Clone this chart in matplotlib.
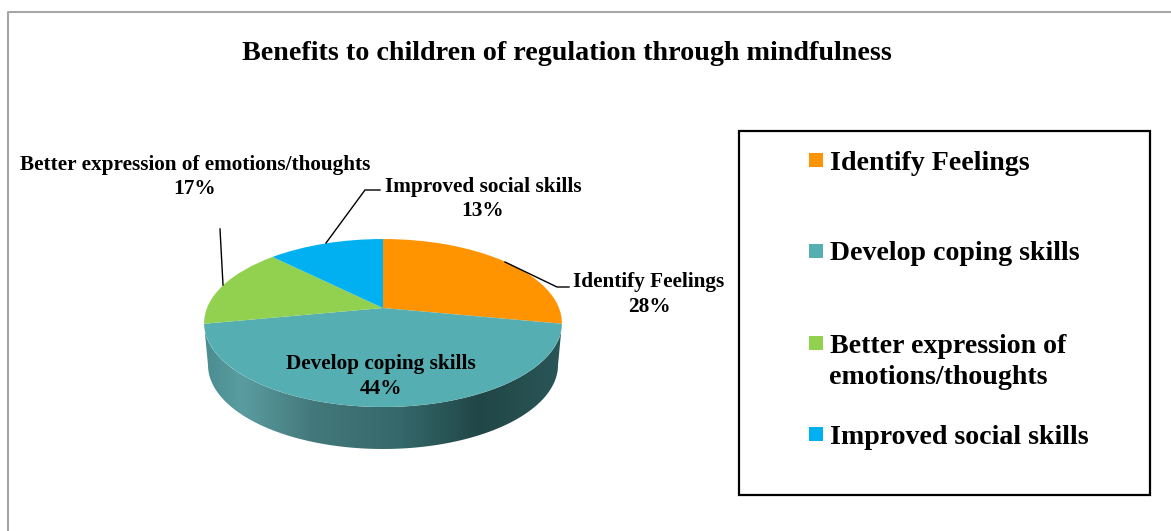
import numpy as np
import matplotlib
matplotlib.use("Agg")
import matplotlib.pyplot as plt
from matplotlib.patches import Rectangle, PathPatch
from matplotlib.path import Path
from matplotlib.transforms import Transform
from matplotlib.colors import LinearSegmentedColormap

plt.rcParams['font.family'] = ['Liberation Serif', 'DejaVu Serif']

TITLE = "Benefits to children of regulation through mindfulness"
categories = ["Identify Feelings", "Develop coping skills",
              "Better expression of emotions/thoughts", "Improved social skills"]
legend_labels = ["Identify Feelings", "Develop coping skills",
                 "Better expression of\nemotions/thoughts", "Improved social skills"]
# slice shares as drawn in the picture
slice_shares = [28, 44, 15.5, 12.5]
# percentages as printed on the labels
printed_percent = [28, 44, 17, 13]
colors = ["#FF9400", "#55AEB2", "#92D050", "#00B0F0"]

W, H = 1171, 531
fig = plt.figure(figsize=(W / 100, H / 100), dpi=100, facecolor="white")
ax = fig.add_axes([0, 0, 1, 1])


class Tilt(Transform):
    """Perspective view of the unit-circle pie, output in pixel coordinates."""
    input_dims = output_dims = 2
    has_inverse = False
    is_affine = False
    CX, CY, A, B, C = 383.0, 308.0, 81.3, 0.1786, 176.0

    def transform_non_affine(self, values):
        v = np.asarray(values, dtype=float)
        d = 1 + self.B * v[:, 1]
        return np.column_stack([self.CX + self.C * v[:, 0] / d,
                                self.CY - self.A * v[:, 1] / d])

    def transform_path_non_affine(self, path):
        return Path(self.transform_non_affine(path.vertices), path.codes)


wedges, _ = ax.pie(slice_shares, colors=colors, startangle=90, counterclock=False,
                   radius=1, frame=True, wedgeprops=dict(linewidth=0))
ax.set_aspect("auto")
ax.set_xlim(0, W)
ax.set_ylim(H, 0)
ax.axis("off")
tilt = Tilt()
for w in wedges:
    w.set_transform(tilt + ax.transData)
    w.set_clip_on(False)
    w.set_zorder(3)

# side wall of the disc with its horizontal shading
t = np.linspace(0, np.pi, 200)
upper_x = 383 + 179 * np.cos(t)
upper_y = 323 + 84 * np.sin(t)
lower_x = 383 + 175 * np.cos(t[::-1])
lower_y = 365 + 84 * np.sin(t[::-1])
wall = Path(np.column_stack([np.r_[upper_x, lower_x, upper_x[0]],
                             np.r_[upper_y, lower_y, upper_y[0]]]), closed=True)
shade = LinearSegmentedColormap.from_list("wall", [
    (0.00, "#4A8C90"), (0.10, "#5A9DA1"), (0.30, "#44797C"),
    (0.55, "#34686A"), (0.77, "#214647"), (1.00, "#2A5657")])
img = ax.imshow(np.linspace(0, 1, 256)[None, :], cmap=shade, aspect="auto",
                extent=(204, 562, 449, 323), zorder=2)
img.set_clip_path(PathPatch(wall, transform=ax.transData))
ax.set_xlim(0, W)
ax.set_ylim(H, 0)

# outer frame
ax.plot([8, 8, W], [H, 12, 12], color="#A6A6A6", lw=1.5, zorder=1, clip_on=False)

ax.text(566.5, 54, TITLE, fontsize=20.25, fontweight="bold", ha="center", va="center")

# data labels
label_pos = [(649, 294.5), (381, 376.5), (195, 177), (483, 199)]
for name, pct, (x, y) in zip(categories, printed_percent, label_pos):
    ax.text(x, y, f"{name}\n{pct}%", fontsize=15.3, fontweight="bold", ha="center",
            va="center", linespacing=1.3, zorder=5, color="black")

# leader lines
leaders = [([505, 557, 569], [262, 287, 287]),
           ([223, 220], [285, 229]),
           ([326, 365, 380], [243, 190, 190])]
for xs, ys in leaders:
    ax.plot(xs, ys, color="black", lw=1.0, zorder=4, solid_joinstyle="miter")

# legend
ax.add_patch(Rectangle((738.5, 131), 411.5, 364, fill=False, ec="black", lw=1.6, zorder=4))
rows = [160, 251, 343, 434]
for lab, c, y in zip(legend_labels, colors, rows):
    ax.add_patch(Rectangle((809, y - 7), 14, 14, fc=c, ec="none", zorder=5))
    two_lines = "\n" in lab
    ax.text(829.5, y + (19 if two_lines else 3), lab, fontsize=20.1, fontweight="bold",
            ha="left", va="center", linespacing=1.28, zorder=5)

fig.savefig("out.png", dpi=100, facecolor="white")
